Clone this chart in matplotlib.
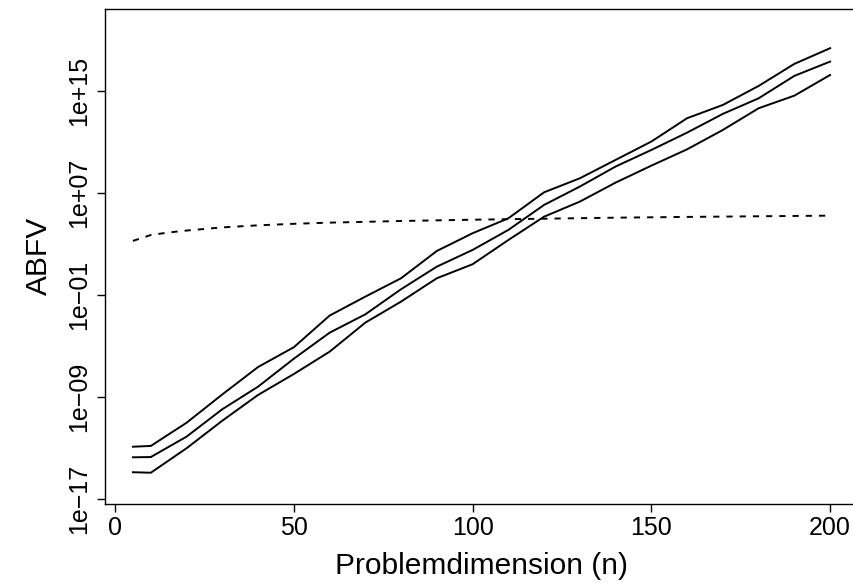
import numpy as np
import matplotlib
matplotlib.use("Agg")
import matplotlib.pyplot as plt

plt.rcParams["font.family"] = ["Liberation Sans", "DejaVu Sans"]

# problem dimensions and log10 of the ABFV values
n = [5, 10, 20, 30, 40, 50, 60, 70, 80, 90, 100,
     110, 120, 130, 140, 150, 160, 170, 180, 190, 200]
upper_log10 = [-12.9, -12.84, -11.02, -8.8, -6.65, -5.1, -2.62, -1.13, 0.31, 2.45, 3.84,
               5.01, 7.05, 8.15, 9.59, 11.03, 12.86, 13.9, 15.39, 17.12, 18.35]
mid_log10 = [-13.73, -13.71, -12.11, -9.96, -8.19, -6.0, -3.96, -2.52, -0.55, 1.22, 2.53,
             4.10, 6.06, 7.5, 9.07, 10.37, 11.73, 13.2, 14.42, 16.18, 17.3]
lower_log10 = [-14.9, -14.94, -13.02, -10.86, -8.84, -7.2, -5.45, -3.17, -1.52, 0.31, 1.41,
               3.31, 5.14, 6.32, 7.81, 9.14, 10.42, 11.94, 13.64, 14.63, 16.25]

# dashed reference curve
n_ref = [5, 10, 15, 20, 30, 40, 50, 60, 80, 100, 120, 140, 160, 180, 200]
ref_log10 = [3.24, 3.70, 3.90, 4.05, 4.30, 4.46, 4.58, 4.67, 4.80, 4.90,
             4.98, 5.06, 5.12, 5.17, 5.22]

xticks = [0, 50, 100, 150, 200]
ytick_exp = [-17, -9, -1, 7, 15]
ytick_labels = ["1e\u221217", "1e\u221209", "1e\u221201", "1e+07", "1e+15"]

fig = plt.figure(figsize=(8.54, 5.85), dpi=100)
ax = fig.add_axes([0.123, 0.1385, 0.8817, 0.8467])

for vals in (upper_log10, mid_log10, lower_log10):
    ax.plot(n, 10.0 ** np.array(vals), color="black", lw=1.4, solid_joinstyle="miter")
ax.plot(n_ref, 10.0 ** np.array(ref_log10), color="black", lw=1.4,
        linestyle=(0, (3.2, 3.6)))

ax.set_yscale("log")
ax.set_xlim(-2.8, 207.8)
ax.set_ylim(10 ** -17.39, 10 ** 21.45)

ax.set_xticks(xticks)
ax.set_xticklabels([str(t) for t in xticks])
ax.set_yticks([10.0 ** e for e in ytick_exp])
ax.set_yticklabels(ytick_labels, rotation=90, va="center")
ax.yaxis.set_minor_locator(matplotlib.ticker.NullLocator())

ax.tick_params(axis="both", direction="out", length=6, width=1, labelsize=18,
               color="black", pad=3)
ax.tick_params(axis="y", pad=4)

for sp in ax.spines.values():
    sp.set_linewidth(1)
    sp.set_color("black")
# the box runs past the right edge of the picture
ax.spines["right"].set_visible(False)

ax.set_xlabel("Problemdimension (n)", fontsize=21.5, labelpad=8)
ax.set_ylabel("ABFV", fontsize=21.5, labelpad=10)

fig.savefig("out.png", dpi=100)
